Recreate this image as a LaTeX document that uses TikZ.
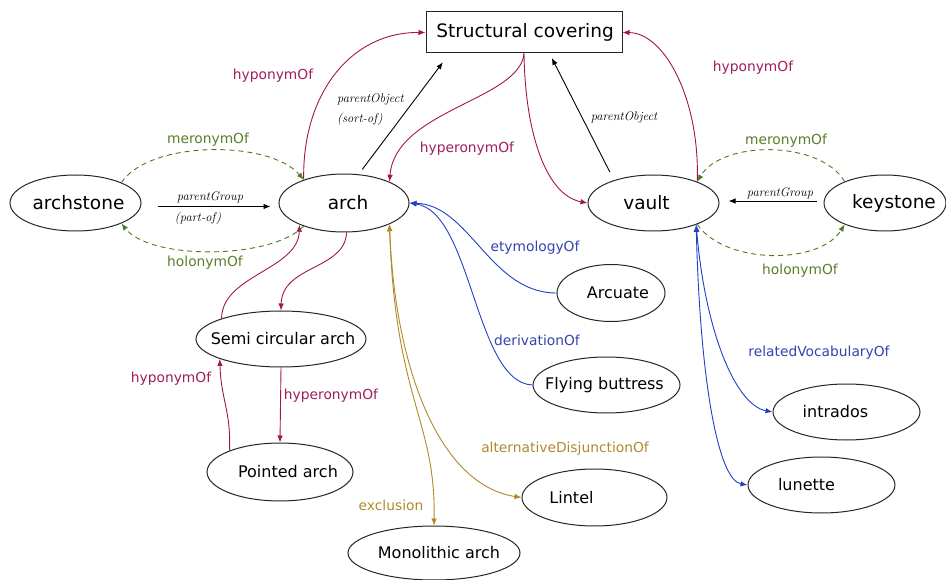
\documentclass[tikz,border=0pt]{standalone}
\usepackage{fontspec}
\newfontfamily\dv{DejaVu Sans}
\usetikzlibrary{shapes.geometric,arrows.meta}
\definecolor{cred}{HTML}{A3164D}
\definecolor{credl}{HTML}{A01E5A}
\definecolor{cgrn}{HTML}{4E7A1E}
\definecolor{cgrnl}{HTML}{5A7F2A}
\definecolor{cblu}{HTML}{2040C8}
\definecolor{cblul}{HTML}{3344B0}
\definecolor{cgld}{HTML}{B08A28}
\definecolor{cgldl}{HTML}{B08A30}
\newcommand{\ntext}[2][0pt]{\makebox[0pt]{\hspace*{#1}\hspace*{#1}#2}}
\begin{document}
\begin{tikzpicture}[x=1pt,y=-1pt,
  >={Latex[length=7pt,width=5.5pt]},
  big/.style={ellipse, draw=black!85, line width=1pt, inner sep=0pt,
    font=\dv\fontsize{18.5}{20}\selectfont, minimum width=130pt, minimum height=56pt},
  small/.style={ellipse, draw=black!85, line width=1pt, inner sep=0pt,
    font=\dv\fontsize{16}{18}\selectfont, minimum width=147pt, minimum height=56pt},
  lbl/.style={font=\dv\fontsize{13.8}{15}\selectfont, inner sep=0pt},
  ital/.style={font=\itshape\fontsize{12.5}{20}\selectfont, inner sep=0pt, align=left},
  redl/.style={draw=cred, line width=0.9pt},
  blk/.style={draw=black, line width=0.9pt, ->},
  grn/.style={draw=cgrn, line width=0.9pt, dash pattern=on 5pt off 4pt},
  blu/.style={draw=cblu, line width=0.9pt},
  gld/.style={draw=cgld, line width=0.9pt}]
\useasboundingbox (0,0) rectangle (946,580);
\fill[white] (0,0) rectangle (946,580);

% nodes
\node[rectangle, draw=black!85, line width=1pt, minimum width=196pt, minimum height=41pt,
  inner sep=0pt, font=\dv\fontsize{18.5}{20}\selectfont] (sc) at (524,32.5) {\ntext[1pt]{Structural covering}};
\node[big, minimum width=131pt] (archstone) at (75.5,203) {\ntext[3pt]{archstone}};
\node[big, minimum width=130pt, minimum height=58pt] (arch) at (344,203) {\ntext[4pt]{arch}};
\node[big, minimum width=131pt] (vault) at (653.5,203) {\ntext[-7pt]{vault}};
\node[big, minimum width=122pt] (keystone) at (885,203) {\ntext[9pt]{keystone}};
\node[small, minimum width=108pt, minimum height=57pt] (arcuate) at (611,293) {\ntext[7pt]{Arcuate}};
\node[small] (flying) at (606.5,385) {\ntext[-2pt]{Flying buttress}};
\node[small] (intrados) at (846.5,412) {\ntext[-11pt]{intrados}};
\node[small] (lunette) at (821.5,485) {\ntext[-15pt]{lunette}};
\node[small, minimum width=145pt, minimum height=57pt] (lintel) at (594.5,497.5) {\ntext[-23pt]{Lintel}};
\node[small, minimum width=172pt, minimum height=54pt] (mono) at (434,553) {\ntext[5pt]{Monolithic arch}};
\node[small, minimum width=170pt] (sca) at (281,339) {\ntext[2pt]{Semi circular arch}};
\node[small, minimum width=146pt, minimum height=58pt] (pa) at (280,472) {\ntext[8pt]{Pointed arch}};

% red edges
\draw[redl, ->] (arch.150) .. controls (302,95) and (350,32) .. (sc.west);
\draw[redl, ->] (sc.south) .. controls (520,100) and (395,110) .. (arch.25);
\draw[redl, ->] (sc.south) .. controls (525,130) and (545,195) .. (vault.west);
\draw[redl, ->] (vault.26) .. controls (700,100) and (665,33) .. (sc.east);
\draw[redl, ->] (sca.161) .. controls (222,275) and (298,270) .. (arch.206);
\draw[redl, ->] (arch.-85) .. controls (345,270) and (282,265) .. (sca.north);
\draw[redl, ->] (pa.157) .. controls (231,410) and (221,400) .. (sca.198);
\draw[redl, ->] (sca.south) -- (pa.north);

% black edges
\draw[blk, shorten <=6pt, shorten >=11pt] (arch.63) -- ([xshift=24pt]sc.south west);
\draw[blk, shorten <=9pt, shorten >=5pt] (vault.150) -- ([xshift=124pt]sc.south west);
\draw[blk, shorten <=16pt, shorten >=8pt] ([yshift=-3.5pt]archstone.east) -- ([yshift=-3.5pt]arch.west);
\draw[blk, shorten <=7pt, shorten >=9pt] ([yshift=2pt]keystone.west) -- ([yshift=2pt]vault.east);

% green dashed edges
\draw[grn, ->] (archstone.24) .. controls (150,140) and (270,140) .. (arch.150);
\draw[grn, ->] (arch.210) .. controls (270,260) and (150,260) .. (archstone.-24);
\draw[grn, ->] (keystone.152) .. controls (820,140) and (722,140) .. (vault.26);
\draw[grn, ->] (vault.-26) .. controls (725,265) and (820,265) .. (keystone.208);

% blue edges
\draw[blu, ->] (arcuate.west) .. controls (490,293) and (470,205) .. (arch.east);
\draw[blu, ->] (flying.west) .. controls (475,383) and (472,212) .. (arch.east);
\draw[blu, <->] (vault.-27) .. controls (705,330) and (735,405) .. (intrados.west);
\draw[blu, <->] (vault.-27) .. controls (700,380) and (718,480) .. (lunette.west);

% gold edges
\draw[gld, <->] (arch.-25) .. controls (395,370) and (440,485) .. (lintel.west);
\draw[gld, <->] (arch.-25) .. controls (395,400) and (436,420) .. (mono.north);

% labels
\node[lbl, text=credl] (t1) at (273,76) {hyponymOf};
\node[lbl, text=credl] (t2) at (467,149) {hyperonymOf};
\node[lbl, text=credl] (t3) at (753,68) {hyponymOf};
\node[lbl, text=credl] (t4) at (171,379) {hyponymOf};
\node[lbl, text=credl] (t5) at (331,396) {hyperonymOf};
\node[lbl, text=cgrnl] (t6) at (208,140) {meronymOf};
\node[lbl, text=cgrnl] (t7) at (205,263) {holonymOf};
\node[lbl, text=cgrnl] (t8) at (786,141) {meronymOf};
\node[lbl, text=cgrnl] (t9) at (800,271) {holonymOf};
\node[lbl, text=cblul] (t10) at (535,248) {etymologyOf};
\node[lbl, text=cblul] (t11) at (537,340) {derivationOf};
\node[lbl, text=cblul] (t12) at (819,353) {relatedVocabularyOf};
\node[lbl, text=cgldl] (t13) at (565,449) {alternativeDisjunctionOf};
\node[lbl, text=cgldl] (t14) at (391,505) {exclusion};
\node[ital, anchor=west] (t15) at (337,110) {parentObject\\(sort-of)};
\node[ital] (t16) at (210,197) {parentGroup};
\node[ital] (t17) at (198,218) {(part-of)};
\node[ital] (t18) at (780,193) {parentGroup};
\node[ital] (t19) at (624,117) {parentObject};
\end{tikzpicture}
\end{document}
